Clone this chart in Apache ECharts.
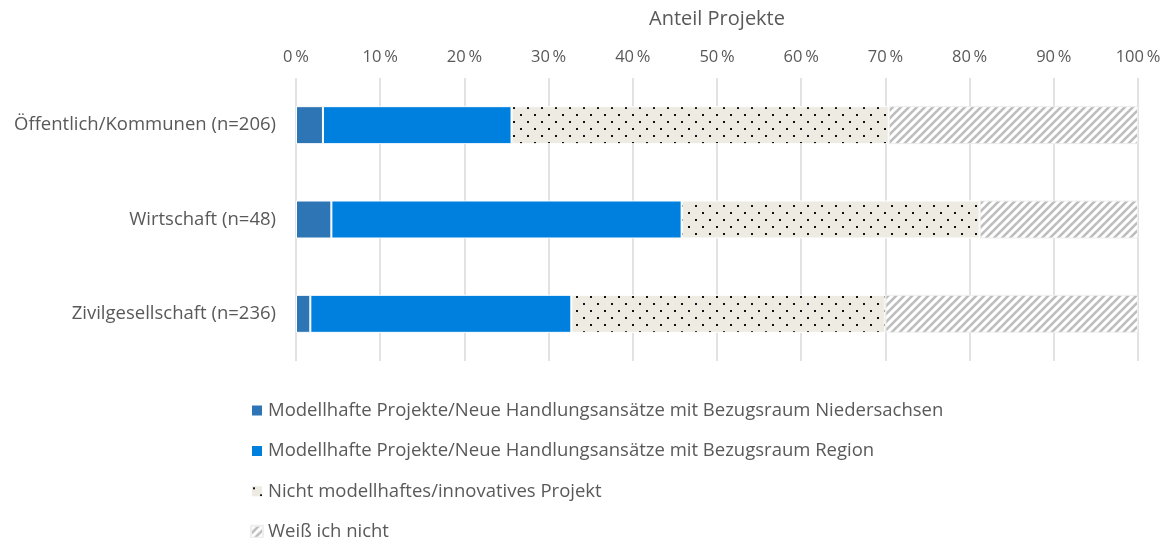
<!DOCTYPE html>
<html>
<head>
<meta charset="utf-8">
<script src="https://cdn.jsdelivr.net/npm/echarts@6/dist/echarts.min.js"></script>
<style>html,body{margin:0;padding:0;background:#fff}#c{width:1168px;height:538px}</style>
</head>
<body>
<div id="c"></div>
<script>
const categories = ['Öffentlich/Kommunen (n=206)', 'Wirtschaft (n=48)', 'Zivilgesellschaft (n=236)'];
const seriesNames = [
  'Modellhafte Projekte/Neue Handlungsansätze mit Bezugsraum Niedersachsen',
  'Modellhafte Projekte/Neue Handlungsansätze mit Bezugsraum Region',
  'Nicht modellhaftes/innovatives Projekt',
  'Weiß ich nicht'
];
const niedersachsen = [3.2, 4.2, 1.7];
const region = [22.4, 41.6, 31.0];
const nichtModellhaft = [44.8, 35.4, 37.3];
const weissNicht = [29.6, 18.8, 30.0];
const xTicks = [0, 10, 20, 30, 40, 50, 60, 70, 80, 90, 100];

function dotPattern() {
  const c = document.createElement('canvas');
  c.width = 14; c.height = 14;
  const g = c.getContext('2d');
  g.fillStyle = '#EDEBE2'; g.fillRect(0, 0, 14, 14);
  g.fillStyle = '#111111';
  g.fillRect(2, 2, 2, 2);
  g.fillRect(9, 9, 2, 2);
  return c;
}
function hatchPattern() {
  const s = 8;
  const c = document.createElement('canvas');
  c.width = s; c.height = s;
  const g = c.getContext('2d');
  g.fillStyle = '#ffffff'; g.fillRect(0, 0, s, s);
  g.strokeStyle = '#BDBDBD'; g.lineWidth = 2.6;
  for (const o of [-s, 0, s]) {
    g.beginPath(); g.moveTo(o - 1, s + 1); g.lineTo(o + s + 1, -1); g.stroke();
  }
  return c;
}

const font = 'Open Sans';
const chart = echarts.init(document.getElementById('c'), null, {renderer: 'canvas'});
const data = [niedersachsen, region, nichtModellhaft, weissNicht];
const colors = ['#2E75B6', '#0080DE', {image: dotPattern(), repeat: 'repeat'}, {image: hatchPattern(), repeat: 'repeat'}];

chart.setOption({
  animation: false,
  textStyle: {fontFamily: font},
  grid: {left: 296, right: 30, top: 78, height: 283, outerBoundsMode: 'none', containLabel: false},
  xAxis: {
    type: 'value', position: 'top', min: 0, max: 100, interval: 10,
    name: 'Anteil Projekte', nameLocation: 'middle', nameGap: 49,
    nameTextStyle: {color: '#595959', fontSize: 20, fontFamily: font},
    axisLine: {show: false}, axisTick: {show: false},
    axisLabel: {formatter: v => v + '\u2009%', color: '#595959', fontSize: 16.5, margin: 12, fontFamily: font},
    splitLine: {show: true, lineStyle: {color: '#D9D9D9', width: 1.5}}
  },
  yAxis: {
    type: 'category', data: categories, inverse: true,
    axisLine: {show: false}, axisTick: {show: false},
    axisLabel: {color: '#595959', fontSize: 18.5, margin: 20, fontFamily: font}
  },
  legend: {
    orient: 'vertical', left: 245, top: 396, height: 142, itemWidth: 12, itemHeight: 12, itemGap: 21.4,
    icon: 'rect',
    textStyle: {color: '#595959', fontSize: 18.5, fontFamily: font},
    data: seriesNames
  },
  series: seriesNames.map((n, i) => ({
    name: n, type: 'bar', stack: 'all', data: data[i], barWidth: 38,
    itemStyle: {color: colors[i], borderColor: i === 3 ? '#EEEEEE' : '#ffffff', borderWidth: 1}
  }))
});
</script>
</body>
</html>
